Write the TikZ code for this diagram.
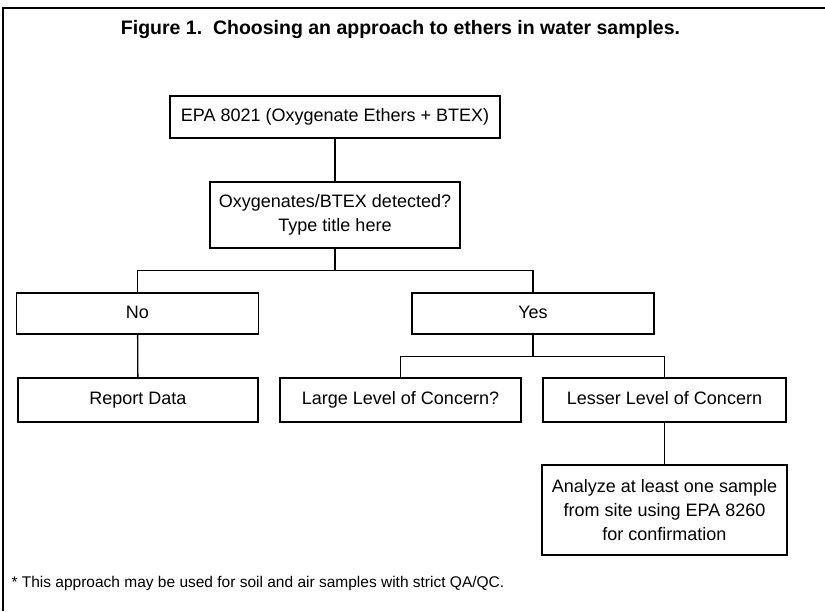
\documentclass[tikz,border=0pt]{standalone}
\usepackage{fontspec}
\setmainfont{Liberation Sans}

\tikzset{
  blok/.style={draw, line width=1.5pt, align=center, inner sep=0pt,
    font=\fontsize{18}{24}\selectfont},
  wiersz/.style={blok, text height=13pt, text depth=4pt},
  linia/.style={line width=1.3pt}
}

\begin{document}
\begin{tikzpicture}[x=1pt,y=-1pt]

% Parametry
\def\bw{242}
\def\bh{42}

\useasboundingbox (0,0) rectangle (825,611);

% ---------- Ramka i tytul ----------
\draw[line width=1.6pt] (3,611) -- (3,8) -- (825,8);
\node[anchor=base, font=\fontsize{19.5}{22}\selectfont\bfseries] (tytul) at (400.5,34)
  {Figure 1.\ \ Choosing an approach to ethers in water samples.};

% ---------- Poziom 1: metoda ----------
\node[wiersz, minimum width=330, minimum height=\bh] (epa) at (335,117)
  {EPA 8021 (Oxygenate Ethers + BTEX)};

% ---------- Poziom 2: wykrycie ----------
\node[blok, minimum width=250, minimum height=66] (wykryto) at (335,215)
  {Oxygenates/BTEX detected?\\Type title here};

% ---------- Poziom 3: nie / tak ----------
\node[wiersz, minimum width=\bw, minimum height=41] (nie) at (137.5,313.5) {No};
\node[wiersz, minimum width=\bw, minimum height=41] (tak) at (533,313.5) {Yes};

% ---------- Poziom 4: wyniki ----------
\node[wiersz, minimum width=240, minimum height=44] (raport) at (138,400) {Report Data};
\node[wiersz, minimum width=241, minimum height=44] (duzy) at (400.5,400) {Large Level of Concern?};
\node[wiersz, minimum width=243, minimum height=44] (mniejszy) at (664.5,400) {Lesser Level of Concern};

% ---------- Poziom 5: potwierdzenie ----------
\node[blok, minimum width=245, minimum height=90] (analiza) at (664.5,510)
  {Analyze at least one sample\\from site using EPA 8260\\for confirmation};

% ---------- Polaczenia ----------
\draw[linia] (epa) -- (wykryto);
\draw[linia] (wykryto.south) -- ++(0,22) -| (nie.north);
\draw[linia] (wykryto.south) -- ++(0,22) -| (tak.north);
\draw[linia] (nie) -- (raport);
\draw[linia] (tak.south) -- ++(0,22) -| (duzy.north);
\draw[linia] (tak.south) -- ++(0,22) -| (mniejszy.north);
\draw[linia] (mniejszy) -- (analiza);

% ---------- Przypis ----------
\node[anchor=base west, font=\fontsize{15.5}{17}\selectfont] (przypis) at (8,587)
  {* This approach may be used for soil and air samples with strict QA/QC.};

\end{tikzpicture}
\end{document}
